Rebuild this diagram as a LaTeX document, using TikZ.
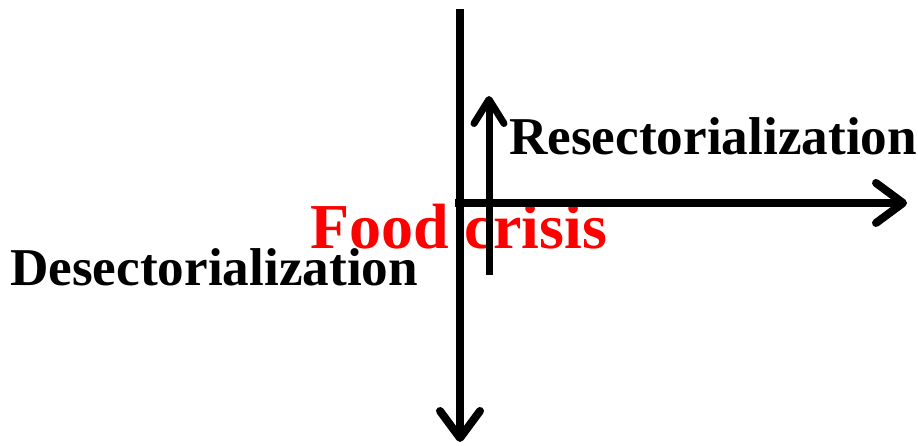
\documentclass[tikz,border=0pt]{standalone}
\usepackage{fontspec}
\setmainfont{Liberation Serif}
\usetikzlibrary{arrows.meta}
\begin{document}
\begin{tikzpicture}[x=1pt,y=1pt,
  lbl/.style={inner sep=0pt, anchor=base west, font=\fontsize{53.2}{60}\selectfont\bfseries},
  axis/.style={line width=8pt, -{Straight Barb[length=27pt,width=40pt,round]}},
  small/.style={line width=7pt, -{Straight Barb[length=24pt,width=30pt,round]}}]
\useasboundingbox (0,0) rectangle (918,446);
\node[lbl] (res) at (509,291) {Resectorialization};
\node[lbl] (des) at (10,160) {Desectorialization};
\node[lbl, text=red, font=\fontsize{64}{70}\selectfont\bfseries] (food) at (310,197) {Food crisis};
\coordinate (vtop) at (460,437);
\coordinate (vbot) at (460,4);
\coordinate (hl) at (455,243);
\coordinate (hr) at (907,243);
\coordinate (sb) at (489,171);
\coordinate (st) at (489,350);
\draw[axis] (vtop) -- (vbot);
\draw[axis] (hl) -- (hr);
\draw[small] (sb) -- (st);
\end{tikzpicture}
\end{document}
